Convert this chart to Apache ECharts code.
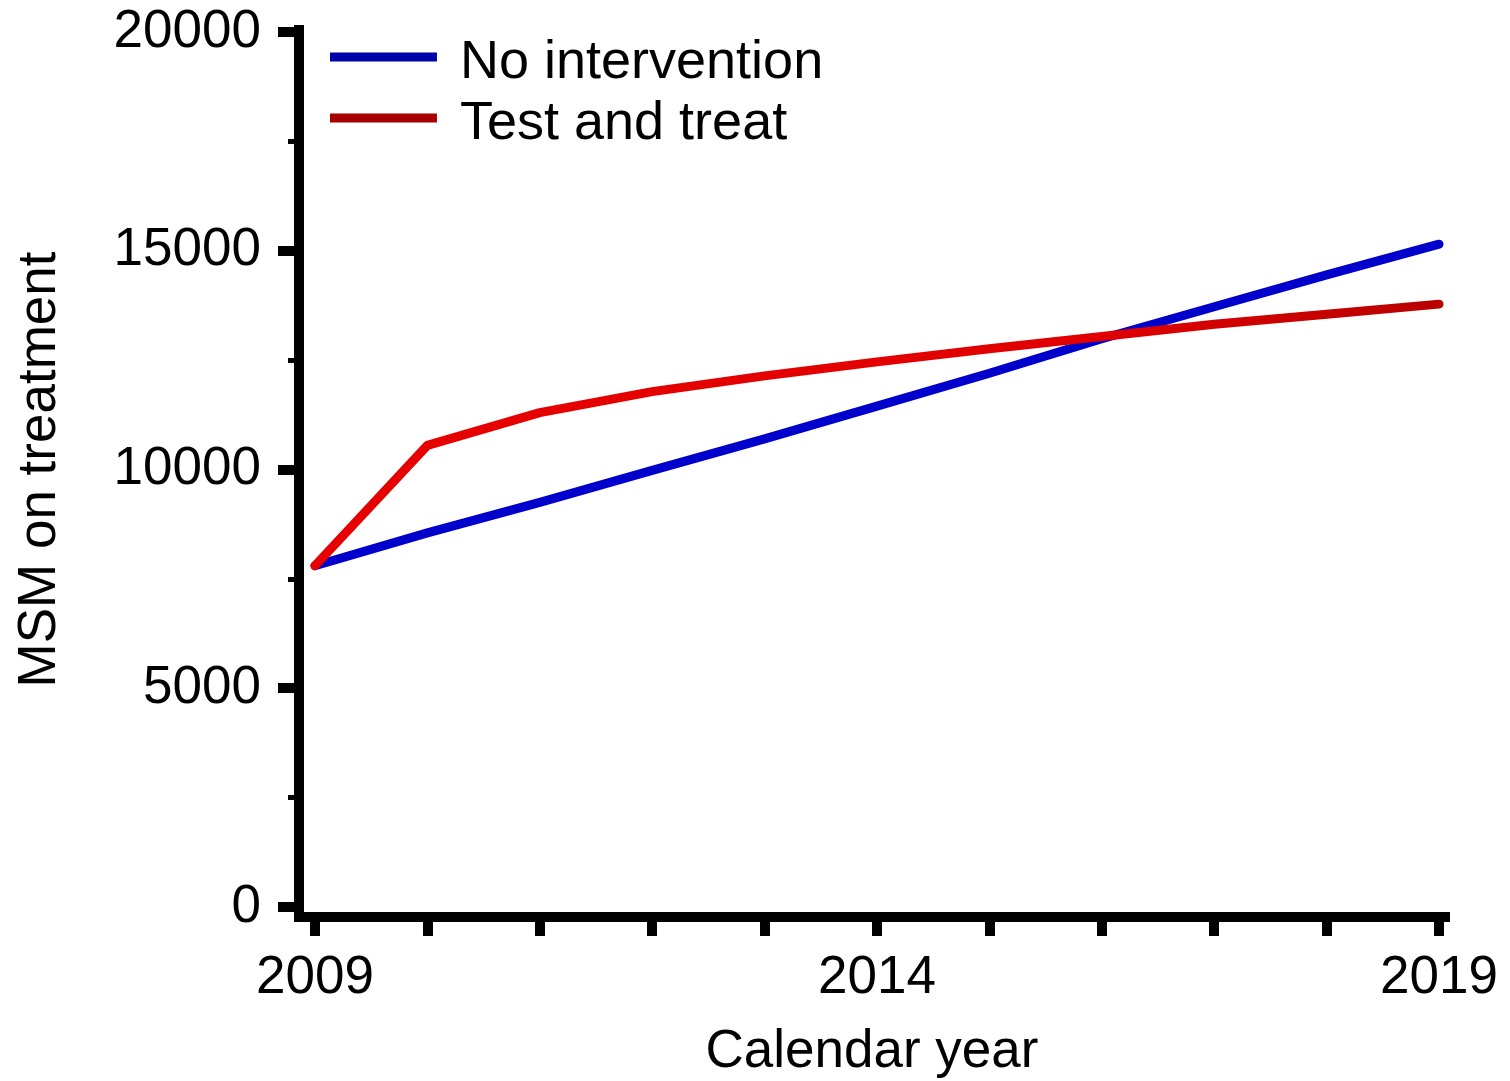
<!DOCTYPE html>
<html>
<head>
<meta charset="utf-8">
<script src="https://cdn.jsdelivr.net/npm/echarts@6/dist/echarts.min.js"></script>
<style>
html,body{margin:0;padding:0;background:#fff;}
#chart{width:1510px;height:1081px;}
</style>
</head>
<body>
<div id="chart"></div>
<script>
const years = [2009, 2010, 2011, 2012, 2013, 2014, 2015, 2016, 2017, 2018, 2019];
const noIntervention = [7800, 8550, 9250, 9980, 10700, 11450, 12200, 12990, 13720, 14450, 15150];
const testAndTreat = [7800, 10550, 11300, 11780, 12140, 12460, 12760, 13040, 13320, 13550, 13780];
const yMajorTicks = [0, 5000, 10000, 15000, 20000];
const yMinorTicks = [2500, 7500, 12500, 17500];
const xTicks = [2009, 2010, 2011, 2012, 2013, 2014, 2015, 2016, 2017, 2018, 2019];
const xLabels = [2009, 2014, 2019];
const seriesNames = ['No intervention', 'Test and treat'];

const FONT = 'Liberation Sans, Arial, sans-serif';
const chart = echarts.init(document.getElementById('chart'), null, {renderer: 'canvas'});

const toPairs = (vals) => years.map((y, i) => [y, vals[i]]);
// legend swatch: a bar at the top of a taller (otherwise empty) icon box
const swatch = 'path://M0,0L107,0L107,9L0,9Z M0,21L0.01,21L0.01,21.01L0,21.01Z';

chart.setOption({
  backgroundColor: '#ffffff',
  animation: false,
  textStyle: {fontFamily: FONT, color: '#000'},
  grid: {left: 299, right: 65, top: 30, bottom: 164, containLabel: false, outerBoundsMode: 'none'},
  legend: {
    orient: 'vertical',
    left: 330,
    top: 36,
    padding: 0,
    itemGap: 7,
    itemWidth: 107,
    itemHeight: 21,
    textStyle: {fontFamily: FONT, fontSize: 54, color: '#000', lineHeight: 54, padding: [0, 0, 0, 18]},
    data: [
      {name: seriesNames[0], icon: swatch, itemStyle: {color: '#0000aa'}},
      {name: seriesNames[1], icon: swatch, itemStyle: {color: '#a80000'}}
    ]
  },
  xAxis: {
    type: 'value',
    min: 2008.858,
    max: 2019.053,
    name: 'Calendar year',
    nameLocation: 'middle',
    nameGap: 109,
    nameTextStyle: {fontFamily: FONT, fontSize: 53, color: '#000'},
    axisLine: {show: true, onZero: false, lineStyle: {color: '#000', width: 10, cap: 'square'}},
    axisTick: {show: true, inside: false, length: 19, lineStyle: {color: '#000', width: 10}, customValues: xTicks},
    axisLabel: {show: true, margin: 35, fontFamily: FONT, fontSize: 53, color: '#000', customValues: xLabels, formatter: v => String(v)},
    splitLine: {show: false}
  },
  yAxis: [
    {
      type: 'value',
      position: 'left',
      min: -229,
      max: 20046,
      name: 'MSM on treatment',
      nameLocation: 'middle',
      nameRotate: 90,
      nameGap: 232,
      nameTextStyle: {fontFamily: FONT, fontSize: 53, color: '#000', padding: [0, 0, 0, 8]},
      axisLine: {show: true, onZero: false, lineStyle: {color: '#000', width: 10, cap: 'square'}},
      axisTick: {show: true, inside: false, length: 21, lineStyle: {color: '#000', width: 10}, customValues: yMajorTicks},
      axisLabel: {show: true, margin: 38, fontFamily: FONT, fontSize: 53, color: '#000', customValues: yMajorTicks, formatter: v => String(v)},
      splitLine: {show: false}
    },
    {
      type: 'value',
      position: 'left',
      min: -229,
      max: 20046,
      axisLine: {show: false, onZero: false},
      axisTick: {show: true, inside: false, length: 11, lineStyle: {color: '#000', width: 5}, customValues: yMinorTicks},
      axisLabel: {show: false},
      splitLine: {show: false}
    }
  ],
  series: [
    {
      name: seriesNames[0],
      type: 'line',
      data: toPairs(noIntervention),
      symbol: 'none',
      smooth: false,
      lineStyle: {color: '#0000cc', width: 9, cap: 'round', join: 'round'},
      itemStyle: {color: '#0000cc'},
      z: 2
    },
    {
      name: seriesNames[1],
      type: 'line',
      data: toPairs(testAndTreat),
      symbol: 'none',
      smooth: false,
      lineStyle: {
        width: 9, cap: 'round', join: 'round',
        color: new echarts.graphic.LinearGradient(0, 0, 1, 0, [
          {offset: 0, color: '#e80000'},
          {offset: 0.7, color: '#e00000'},
          {offset: 1, color: '#b80000'}
        ])
      },
      itemStyle: {color: '#d00000'},
      z: 3
    }
  ]
});
</script>
</body>
</html>
